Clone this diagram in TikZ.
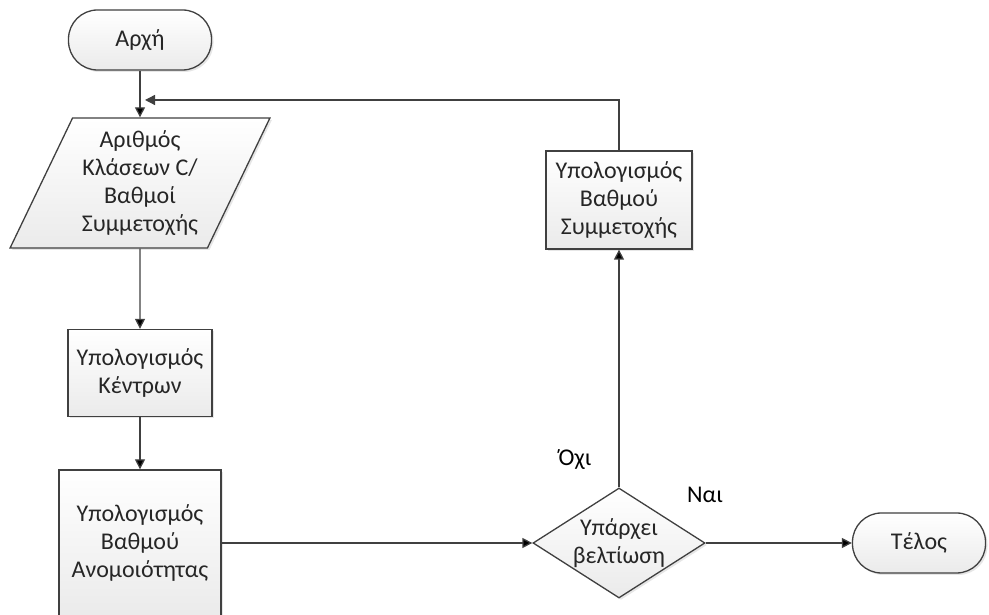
\documentclass[tikz,border=0pt]{standalone}
\usepackage{fontspec}
\setmainfont{Carlito}
\usetikzlibrary{positioning,shapes.geometric,shadows,arrows.meta}

\begin{document}
\begin{tikzpicture}[x=1pt,y=1pt,node distance=150pt,on grid,
	font=\fontsize{24}{28}\selectfont,
	box/.style={draw=black!75,line width=1.3pt,top color=white,bottom color=black!8,
		drop shadow={opacity=0.2,shadow xshift=2pt,shadow yshift=-2pt},align=center,text=black!85},
	terminal/.style={box,rectangle,rounded corners=29pt,minimum width=143pt,minimum height=60pt},
	process/.style={box,rectangle,minimum width=146pt,minimum height=98pt},
	io/.style={box,trapezium,trapezium left angle=63,trapezium right angle=117,
		trapezium stretches=true,minimum width=260pt,minimum height=130pt},
	test/.style={box,diamond,minimum width=172pt,minimum height=110pt,inner sep=0pt},
	flow/.style={draw=black!75,line width=1.3pt,-{Triangle[length=10pt,width=10pt]}}]
	\useasboundingbox (0,0) rectangle (989,615);
	\node[terminal] (start) at (140,575) {Αρχή};
	\node[io] (input) [below=143pt of start] {Αριθμός\\Κλάσεων C/\\Βαθμοί\\Συμμετοχής};
	\node[process,minimum width=144pt,minimum height=87pt] (centers) [below=190pt of input] {Υπολογισμός\\Κέντρων};
	\node[process,minimum width=162pt,minimum height=146pt] (dissim) [below=170pt of centers] {Υπολογισμός\\Βαθμού\\Ανομοιότητας};
	\node[test,label={[align=center,text=black!85]center:Υπάρχει\\βελτίωση}] (check) [right=479pt of dissim] {};
	\node[process] (membership) [above=343pt of check] {Υπολογισμός\\Βαθμού\\Συμμετοχής};
	\node[terminal,minimum width=133pt] (end) [right=300pt of check] {Τέλος};
	\coordinate (back) at (145,515);
	\path[flow]
	(start) edge (input)
	(input) edge (centers)
	(centers) edge (dissim)
	(dissim) edge (check)
	(check) edge (membership)
	(check) edge (end);
	\draw[flow] (membership.north) |- (back);
	\node (no) at (575,155) {Όχι};
	\node (yes) at (705,120) {Ναι};
\end{tikzpicture}
\end{document}
